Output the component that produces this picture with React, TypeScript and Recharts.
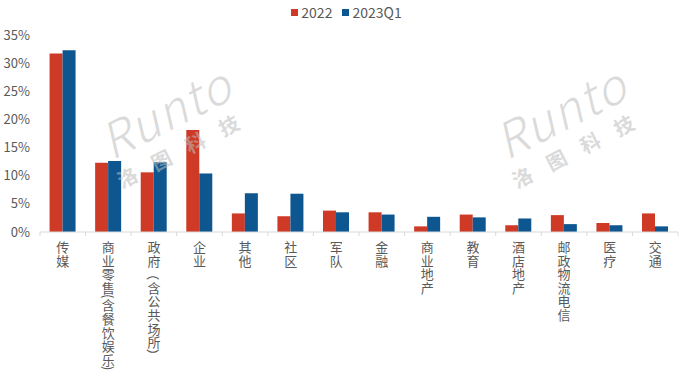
import React from 'react'
import {Bar, BarChart, XAxis, YAxis} from 'recharts';

const categories = ['传媒', '商业零售(含餐饮娱乐)', '政府（含公共场所）', '企业', '其他', '社区', '军队', '金融', '商业地产', '教育', '酒店地产', '邮政物流电信', '医疗', '交通'];
const values2022 = [31.7, 12.3, 10.6, 18.1, 3.3, 2.8, 3.8, 3.5, 1.0, 3.1, 1.2, 3.0, 1.6, 3.3];
const values2023Q1 = [32.3, 12.6, 12.4, 10.4, 6.9, 6.8, 3.5, 3.1, 2.7, 2.6, 2.4, 1.4, 1.2, 1.0];
const yTicks = [0, 5, 10, 15, 20, 25, 30, 35];
const seriesNames = ['2022', '2023Q1'];
const seriesColors = ['#CF3A27', '#0D5690'];

const data = categories.map((name, i) => ({name, s2022: values2022[i], s2023: values2023Q1[i]}));

const W = 693;
const H = 382;
const xAxisHeight = 30;
const margin = {top: 35, right: 15, bottom: 150 - xAxisHeight, left: 0};
const yAxisWidth = 40;
const band = (W - margin.left - margin.right - yAxisWidth) / categories.length;
const textColor = '#595959';
const font = '"Noto Sans CJK SC", "Noto Sans", sans-serif';
const step = 13.6;

// vertical label: every character stacked, brackets turned sideways
const XTick = ({x, y, payload, index}: any) => {
    const chars = Array.from(payload.value as string);
    const base = y - 8;
    let top = base + 14.5 - step / 2;
    const items = chars.map((c, i) => {
        const half = c === '(' || c === ')';
        const size = half ? 0.3 : 1;
        const cy = top + size * step / 2;
        top += size * step;
        const rotate = half || c === '（' || c === '）';
        return (
            <text key={i} x={x} y={cy} textAnchor="middle" dominantBaseline="central" fill={textColor}
                  fontSize={13} fontFamily={font}
                  transform={rotate ? `rotate(90 ${x} ${cy})` : undefined}>{c}</text>
        );
    });
    return (
        <g>
            <line x1={x - band / 2} x2={x - band / 2} y1={base} y2={base + 4} stroke="#D9D9D9"/>
            {index === categories.length - 1 &&
                <line x1={x + band / 2} x2={x + band / 2} y1={base} y2={base + 4} stroke="#D9D9D9"/>}
            {items}
        </g>
    );
};

const Watermark = ({cx, cy}: { cx: number, cy: number }) => (
    <g transform={`rotate(-27 ${cx} ${cy})`} fill="#BDBDBD" opacity={0.55} fontFamily={font}>
        <text x={cx} y={cy + 14} textAnchor="middle" fontSize={48} fontStyle="italic" fontWeight={300}
              letterSpacing={2}>Runto</text>
        <text x={cx + 2} y={cy + 44} textAnchor="middle" fontSize={20} fontWeight={700}
              letterSpacing={18}>洛图科技</text>
    </g>
);

const LegendBox = () => (
    <div style={{
        position: 'absolute', top: 3, left: 0, width: W, display: 'flex', justifyContent: 'center',
        fontFamily: font, fontSize: 14, color: textColor, lineHeight: '18px'
    }}>
        {seriesNames.map((n, i) => (
            <span key={n} style={{display: 'flex', alignItems: 'center', marginRight: i === 0 ? 10 : 0}}>
                <span style={{width: 7, height: 7, background: seriesColors[i], marginRight: 3}}/>
                {n}
            </span>
        ))}
    </div>
);

export default function App() {
    return (
        <div style={{position: 'absolute', left: 0, top: 0, width: W, height: H, background: '#fff'}}>
            <BarChart width={W} height={H} data={data} margin={margin} barCategoryGap="21%" barGap={0}>
                <XAxis
                    dataKey="name"
                    height={xAxisHeight}
                    interval={0}
                    axisLine={{stroke: '#D9D9D9'}}
                    tickLine={false}
                    tick={<XTick/>}
                />
                <YAxis
                    width={yAxisWidth}
                    domain={[0, 35]}
                    ticks={yTicks}
                    interval={0}
                    tickFormatter={(v: number) => v + '%'}
                    axisLine={false}
                    tickLine={false}
                    tickMargin={4}
                    tick={{fill: textColor, fontSize: 13, fontFamily: font}}
                />
                <Bar dataKey="s2022" name={seriesNames[0]} fill={seriesColors[0]} isAnimationActive={false}/>
                <Bar dataKey="s2023" name={seriesNames[1]} fill={seriesColors[1]} isAnimationActive={false}/>
            </BarChart>
            <LegendBox/>
            <svg width={W} height={H} style={{position: 'absolute', left: 0, top: 0, pointerEvents: 'none'}}>
                <Watermark cx={168} cy={116}/>
                <Watermark cx={563} cy={116}/>
            </svg>
        </div>
    )
}
